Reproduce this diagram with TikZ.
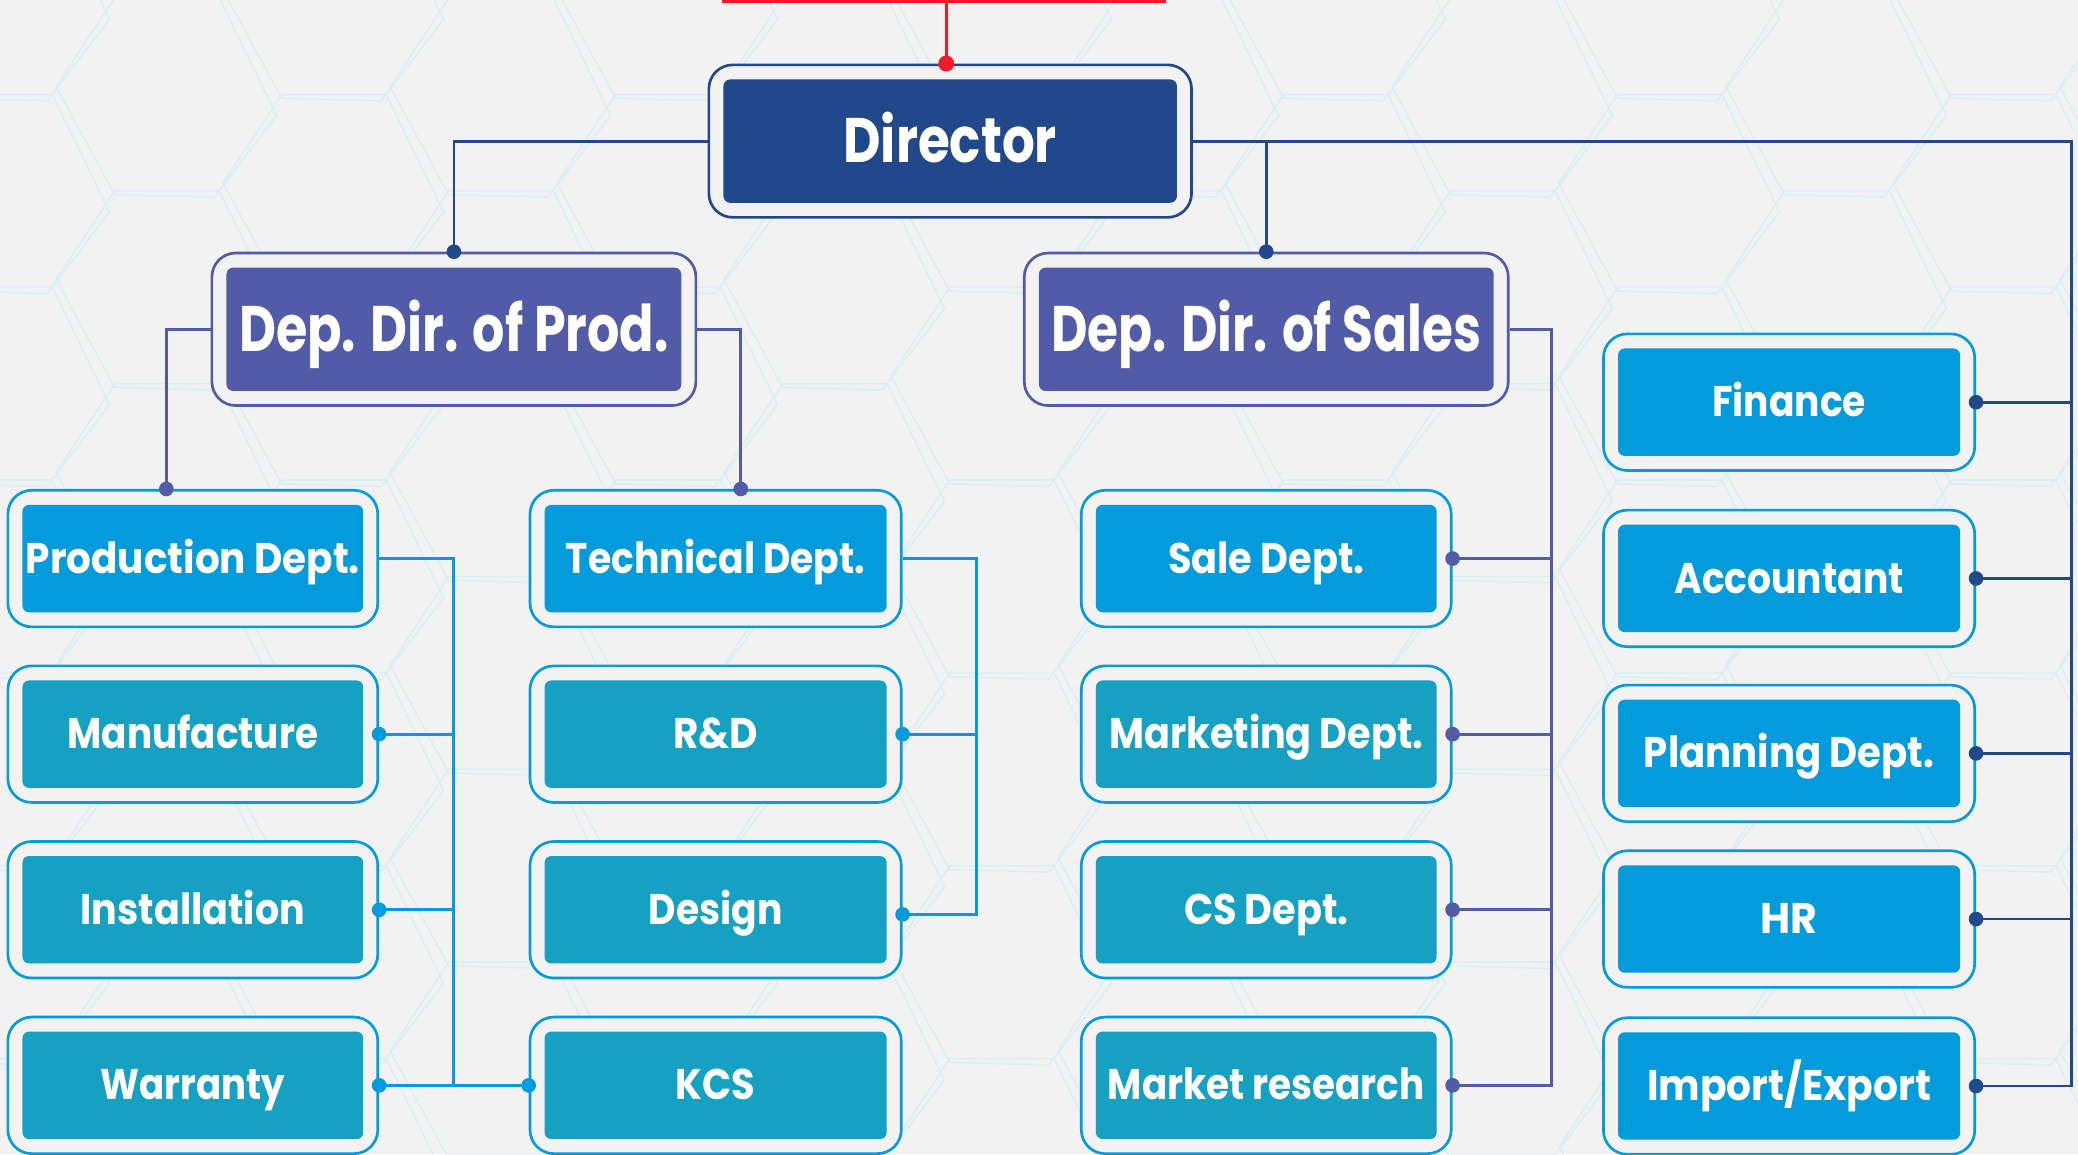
\documentclass[tikz,border=0pt]{standalone}
\usepackage{fontspec}
\usepackage{graphicx}
\usepackage{tikz}
\usetikzlibrary{arrows.meta,calc}
\newfontfamily\orgfont{Poppins}
\definecolor{navy}{RGB}{33,72,138}
\definecolor{slate}{RGB}{82,91,168}
\definecolor{sky}{RGB}{3,155,219}
\definecolor{tealbox}{RGB}{22,160,194}
\definecolor{alarm}{RGB}{238,28,37}
\definecolor{paper}{RGB}{242,242,242}
\definecolor{meshline}{RGB}{214,240,244}
\newcommand{\fitlbl}[2]{\resizebox{#1}{\height}{#2}}
\tikzset{
  unit/.style={draw=#1, line width=0.02cm, rounded corners=0.18cm, fill=paper,
    minimum width=2.79cm, minimum height=1.03cm, inner sep=0pt, text=white,
    font=\orgfont\bfseries\fontsize{9.2}{10}\selectfont, text height=0.22cm, text depth=0pt,
    path picture={\fill[#1, rounded corners=0.05cm]
      ([shift={(0.11cm,0.11cm)}]path picture bounding box.south west) rectangle
      ([shift={(-0.11cm,-0.11cm)}]path picture bounding box.north east);}},
  head/.style={unit=#1, minimum width=3.65cm, minimum height=1.15cm,
    font=\orgfont\bfseries\fontsize{13.8}{15}\selectfont, text height=0.34cm},
  link/.style={line width=0.021cm},
  bead/.style={-{Circle[length=0.11cm]}, shorten >=-0.055cm},
  mesh/.style={meshline, line width=0.01cm}
}
\begin{document}
\begin{tikzpicture}[x=0.01cm, y=-0.01cm]
\useasboundingbox (0,0) rectangle (1568,871);
\fill[paper] (0,0) rectangle (1568,871);
\begin{scope}
\clip (0,0) rectangle (1568,871);
\foreach \i in {0,...,14} {
  \foreach \j in {0,...,7} {
    \draw[mesh] ({\i*126},{\j*145.5+mod(\i,2)*72.7}) +(10:84) -- +(65:84) -- +(118:84)
      -- +(185:84) -- +(242:84) -- +(298:84) -- cycle;
  }
}
\end{scope}

% top level
\node[head=navy, minimum width=3.64cm, text height=0.33cm,
  font=\orgfont\bfseries\fontsize{13.5}{15}\selectfont] (dir) at (717,106.5) {\fitlbl{1.61cm}{Director}};
\node[head=slate] (ddp) at (342.5,248.5) {\fitlbl{3.24cm}{Dep. Dir. of Prod.}};
\node[head=slate] (dds) at (955.5,248.5) {\fitlbl{3.24cm}{Dep. Dir. of Sales}};

% production side
\node[unit=sky] (prod) at (145.5,421.5) {\fitlbl{2.52cm}{Production Dept.}};
\node[unit=tealbox, draw=sky] (man) at (145.5,554) {\fitlbl{1.89cm}{Manufacture}};
\node[unit=tealbox, draw=sky] (inst) at (145.5,686.5) {\fitlbl{1.69cm}{Installation}};
\node[unit=tealbox, draw=sky] (war) at (145.5,819) {\fitlbl{1.39cm}{Warranty}};
\node[unit=sky, minimum width=2.8cm] (tech) at (540,421.5) {\fitlbl{2.26cm}{Technical Dept.}};
\node[unit=tealbox, draw=sky, minimum width=2.8cm] (rd) at (540,554) {\fitlbl{0.64cm}{R\&D}};
\node[unit=tealbox, draw=sky, minimum width=2.8cm] (des) at (540,686.5) {\fitlbl{1.01cm}{Design}};
\node[unit=tealbox, draw=sky, minimum width=2.8cm] (kcs) at (540,819) {\fitlbl{0.60cm}{KCS}};

% sales side
\node[unit=sky] (sale) at (955.5,421.5) {\fitlbl{1.48cm}{Sale Dept.}};
\node[unit=tealbox, draw=sky] (mkt) at (955.5,554) {\fitlbl{2.37cm}{Marketing Dept.}};
\node[unit=tealbox, draw=sky] (cs) at (955.5,686.5) {\fitlbl{1.24cm}{CS Dept.}};
\node[unit=tealbox, draw=sky] (mres) at (955.5,819) {\fitlbl{2.39cm}{Market research}};

% staff units
\node[unit=sky, minimum width=2.8cm] (fin) at (1350,303.5) {\fitlbl{1.16cm}{Finance}};
\node[unit=sky, minimum width=2.8cm] (acc) at (1350,436.5) {\fitlbl{1.73cm}{Accountant}};
\node[unit=sky, minimum width=2.8cm] (plan) at (1350,568.5) {\fitlbl{2.19cm}{Planning Dept.}};
\node[unit=sky, minimum width=2.8cm] (hr) at (1350,693.5) {\fitlbl{0.43cm}{HR}};
\node[unit=sky, minimum width=2.8cm] (imp) at (1350,819.5) {\fitlbl{2.14cm}{Import/Export}};

% bus corners
\coordinate (gtop) at (714,0);
\coordinate (rb) at (1563,106.5);
\coordinate (sb) at (1171,248.5);
\coordinate (pb) at (342,421.5);
\coordinate (tb) at (737,421.5);

% from above
\draw[alarm, line width=0.04cm] (545,0) -- (880,0);
\draw[link, alarm, -{Circle[length=0.12cm]}, shorten >=-0.06cm] (gtop) -- (gtop |- dir.north);

% director links
\draw[link, navy, bead] (dir.west) -| (ddp.north);
\draw[link, navy, bead] (dir.east) -| (dds.north);
\draw[link, navy, bead] (dir.east) -- (rb) |- (imp.east);
\foreach \u in {fin,acc,plan,hr}
  \draw[link, navy, bead] (rb |- \u.east) -- (\u.east);

% deputy links
\draw[link, slate, bead] (ddp.west) -| ([xshift=-0.2cm]prod.north);
\draw[link, slate, bead] (ddp.east) -| ([xshift=0.19cm]tech.north);
\draw[link, slate, bead] (dds.east) -- (sb) |- (mres.east);
\foreach \u in {sale,mkt,cs}
  \draw[link, slate, bead] (sb |- \u.east) -- (\u.east);

% department links
\draw[link, sky, bead] (prod.east) -- (pb) |- (kcs.west);
\foreach \u in {man,inst,war}
  \draw[link, sky, bead] (pb |- \u.east) -- (\u.east);
\draw[link, sky, bead] (tech.east) -- (tb) |- ([yshift=-0.035cm]des.east);
\draw[link, sky, bead] (tb |- rd.east) -- (rd.east);
\end{tikzpicture}
\end{document}
